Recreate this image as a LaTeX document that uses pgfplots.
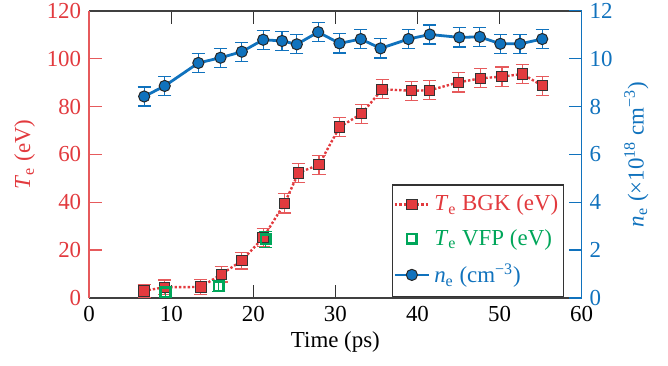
\documentclass[border=0pt]{standalone}
\usepackage{fontspec}
\setmainfont{Liberation Serif}
\usepackage{pgfplots}
\usepackage{pgfplotstable}
\pgfplotsset{compat=1.18}
\definecolor{cred}{RGB}{226,58,62}
\definecolor{credl}{RGB}{230,90,92}
\definecolor{cblue}{RGB}{16,114,189}
\definecolor{cgreen}{RGB}{0,166,90}
\pgfplotstableread{
t T e
6.7 3.0 2.8
9.2 4.5 3.0
13.6 4.6 3.0
16.1 9.9 3.2
18.6 15.6 3.5
21.2 25.2 3.8
23.8 39.5 4
25.5 52.3 4
28.0 55.7 4
30.5 71.4 4
33.2 77.0 4
35.7 87.2 4
39.3 86.6 4
41.5 86.8 4
45.0 90.1 4
47.7 91.8 4
50.3 92.5 4
52.8 93.6 4
55.2 88.7 4
}\bgk
\pgfplotstableread{
t T e
9.3 2.5 2.0
15.8 5.0 2.2
21.5 24.5 3.3
}\vfp
\pgfplotstableread{
t n e
6.7 8.42 0.4
9.2 8.86 0.4
13.3 9.82 0.4
16.0 10.04 0.4
18.6 10.29 0.4
21.2 10.79 0.4
23.5 10.74 0.4
25.3 10.60 0.4
27.9 11.11 0.4
30.5 10.64 0.4
33.1 10.82 0.4
35.5 10.43 0.4
38.9 10.82 0.4
41.5 11.01 0.4
45.1 10.89 0.4
47.6 10.91 0.4
50.1 10.62 0.4
52.5 10.62 0.4
55.2 10.82 0.4
}\ne
\begin{document}
\fontsize{11.5}{13.5}\selectfont
\begin{tikzpicture}
\path[use as bounding box] (-44.6bp,-34bp) rectangle (289.4bp,149bp);
\pgfplotsset{
  every axis/.append style={
    scale only axis, width=246.2bp, height=143.6bp,
    xmin=0, xmax=60, xtick={0,10,...,60},
    tick align=inside, major tick length=6.5bp,
    /pgf/number format/assume math mode=true,
    tick label style={font=\fontsize{11.5}{13.5}\selectfont},
    label style={font=\fontsize{11.5}{13.5}\selectfont},
    axis line style={line width=0.8pt},
    every tick/.style={line width=0.7pt},
  }
}
\begin{axis}[
  ymin=0, ymax=120, ytick={0,20,...,120},
  axis y line*=left,
  x axis line style={black!75},
  y axis line style={credl},
  ytick style={credl},
  xtick style={black!80},
  yticklabel style={text=cred},
  xlabel={Time (ps)},
  ylabel={\textcolor{cred}{\textit{T}\textsubscript{e} (eV)}},
  ylabel style={yshift=-2bp},
  xlabel style={yshift=3bp},
]
\addplot[cred, densely dotted, line width=1.2pt, mark=square*,
  mark options={solid, fill=cred, draw=black!80, line width=0.5pt}, mark size=2.6bp,
  error bars/.cd, y dir=both, y explicit,
  error bar style={credl, line width=0.6pt, solid},
  error mark options={credl, rotate=90, mark size=3.3bp, line width=0.6pt}]
  table[x=t, y=T, y error=e]{\bgk};
\addplot[only marks, cgreen, mark=square, mark size=2.4bp,
  mark options={line width=1.3pt, fill=white},
  error bars/.cd, y dir=both, y explicit,
  error bar style={cgreen, line width=0.6pt},
  error mark options={cgreen, rotate=90, mark size=3.3bp, line width=0.6pt}]
  table[x=t, y=T, y error=e]{\vfp};
\end{axis}
\begin{axis}[
  ymin=0, ymax=12, ytick={0,2,...,12},
  axis y line*=right, axis x line=none,
  y axis line style={cblue},
  ytick style={cblue},
  yticklabel style={text=cblue},
  ylabel={\textcolor{cblue}{\textit{n}\textsubscript{e} (\texttimes10\textsuperscript{18} cm\textsuperscript{−3})}},
  ylabel style={yshift=2bp},
  legend style={at={(0.964,0.004)}, anchor=south east, draw=black!80, line width=0.6pt,
    font=\fontsize{11.5}{13.5}\selectfont, row sep=3.5bp, inner xsep=0.5bp, inner ysep=3bp},
  legend cell align=left,
]
\addlegendimage{cred, densely dotted, line width=1.2pt, mark=square*,
  mark options={solid, fill=cred, draw=black!80, line width=0.5pt}, mark size=2.6bp}
\addlegendentry{\textcolor{cred}{\textit{T}\textsubscript{e} BGK (eV)}}
\addlegendimage{only marks, cgreen, mark=square, mark size=2.4bp, mark options={line width=1.3pt}}
\addlegendentry{\textcolor{cgreen}{\textit{T}\textsubscript{e} VFP (eV)}}
\addplot[cblue, line width=1.4pt, mark=*, mark size=2.8bp,
  mark options={fill=cblue, draw=black!85, line width=0.5pt},
  error bars/.cd, y dir=both, y explicit,
  error bar style={cblue, line width=0.6pt},
  error mark options={cblue, rotate=90, mark size=3.3bp, line width=0.6pt}]
  table[x=t, y=n, y error=e]{\ne};
\addlegendentry{\textcolor{cblue}{\textit{n}\textsubscript{e} (cm\textsuperscript{−3})}}
\end{axis}
\end{tikzpicture}
\end{document}
